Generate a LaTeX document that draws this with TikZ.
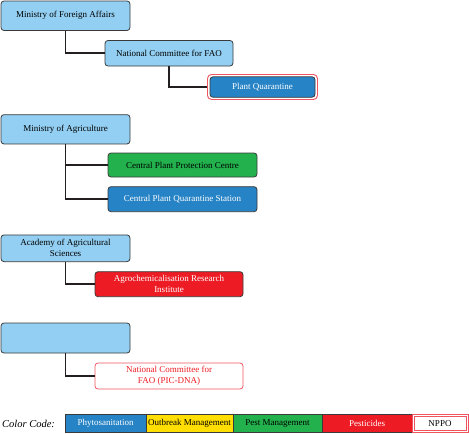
\documentclass[tikz,border=0pt]{standalone}
\usepackage{fontspec}
\setmainfont{Liberation Serif}
\definecolor{lblue}{HTML}{93CFF2}
\definecolor{cblue}{HTML}{2683C6}
\definecolor{cgreen}{HTML}{22B14C}
\definecolor{cred}{HTML}{ED1C24}
\definecolor{cyellow}{HTML}{FFDE00}
\definecolor{bord}{HTML}{3A3A3A}
\definecolor{pinkred}{HTML}{EE5560}
\definecolor{conn}{HTML}{231F20}
\tikzset{
  box/.style={draw=bord, line width=0.8pt, rounded corners=3pt, font=\fontsize{9}{11}\selectfont, align=center, inner sep=1pt},
  parent/.style={box, fill=lblue, minimum width=129pt},
  link/.style={draw=conn, line width=1.8pt},
  cell/.style={draw=bord, line width=0.6pt, minimum height=18pt, font=\fontsize{9}{11}\selectfont, inner sep=0pt}
}
\begin{document}
\begin{tikzpicture}[x=1pt,y=-1pt]
\useasboundingbox (0,0) rectangle (469,434);
% group 1
\node[parent, minimum height=29.5pt] (mfa) at (65.5,15.75) {Ministry of Foreign Affairs};
\node[box, fill=lblue, minimum width=128pt, minimum height=25.5pt] (ncf) at (169,53.25) {National Committee for FAO};
\node[draw=pinkred, line width=0.9pt, rounded corners=4pt, fill=white, minimum width=110pt, minimum height=25pt] (pqo) at (262.5,87) {};
\node[box, fill=cblue, text=white, minimum width=105pt, minimum height=20.5pt] (pq) at (pqo.center) {Plant Quarantine};
\draw[link] (mfa.south) |- (ncf.west);
\draw[link] (ncf.south) |- (pqo.west);
% group 2
\node[parent, minimum height=29.3pt] (moa) at (65.5,129.3) {Ministry of Agriculture};
\node[box, fill=cgreen, minimum width=149pt, minimum height=24pt] (cppc) at (182.5,165) {Central Plant Protection Centre};
\node[box, fill=cblue, text=white, minimum width=149pt, minimum height=25pt] (cpqs) at (182.5,199.2) {Central Plant Quarantine Station};
\draw[link] (moa.south) |- (cppc.west);
\draw[link] (moa.south) |- (cpqs.west);
% group 3
\node[parent, minimum height=26.7pt] (aas) at (65.5,248.3) {Academy of Agricultural\\Sciences};
\node[box, fill=cred, text=white, minimum width=148pt, minimum height=25pt] (ari) at (169,284.2) {Agrochemicalisation Research\\Institute};
\draw[link] (aas.south) |- (ari.west);
% group 4
\node[parent, minimum height=30pt] (blank) at (65.5,338) {};
\node[box, draw=pinkred, fill=white, text=cred, minimum width=148pt, minimum height=26pt] (pic) at (169,376) {National Committee for\\FAO (PIC-DNA)};
\draw[link] (blank.south) |- (pic.west);
% legend
\node[font=\fontsize{10.5}{12}\selectfont\itshape, anchor=west, inner sep=0pt] (cc) at (2,424) {Color Code:};
\node[cell, fill=cblue, text=white, minimum width=81pt] (l1) at (105.5,423.7) {Phytosanitation};
\node[cell, fill=cyellow, minimum width=87pt] (l2) at (189.5,423.7) {Outbreak Management};
\node[cell, fill=cgreen, minimum width=89pt] (l3) at (277.5,423.7) {Pest Management};
\node[cell, fill=cred, text=white, minimum width=90pt] (l4) at (367,423.7) {Pesticides};
\node[cell, draw=pinkred, fill=white, minimum width=56pt] (l5) at (440,423.7) {};
\node[draw=pinkred, line width=0.6pt, minimum width=52pt, minimum height=14pt, inner sep=0pt, font=\fontsize{9}{11}\selectfont] (nppo) at (l5.center) {NPPO};
\end{tikzpicture}
\end{document}
